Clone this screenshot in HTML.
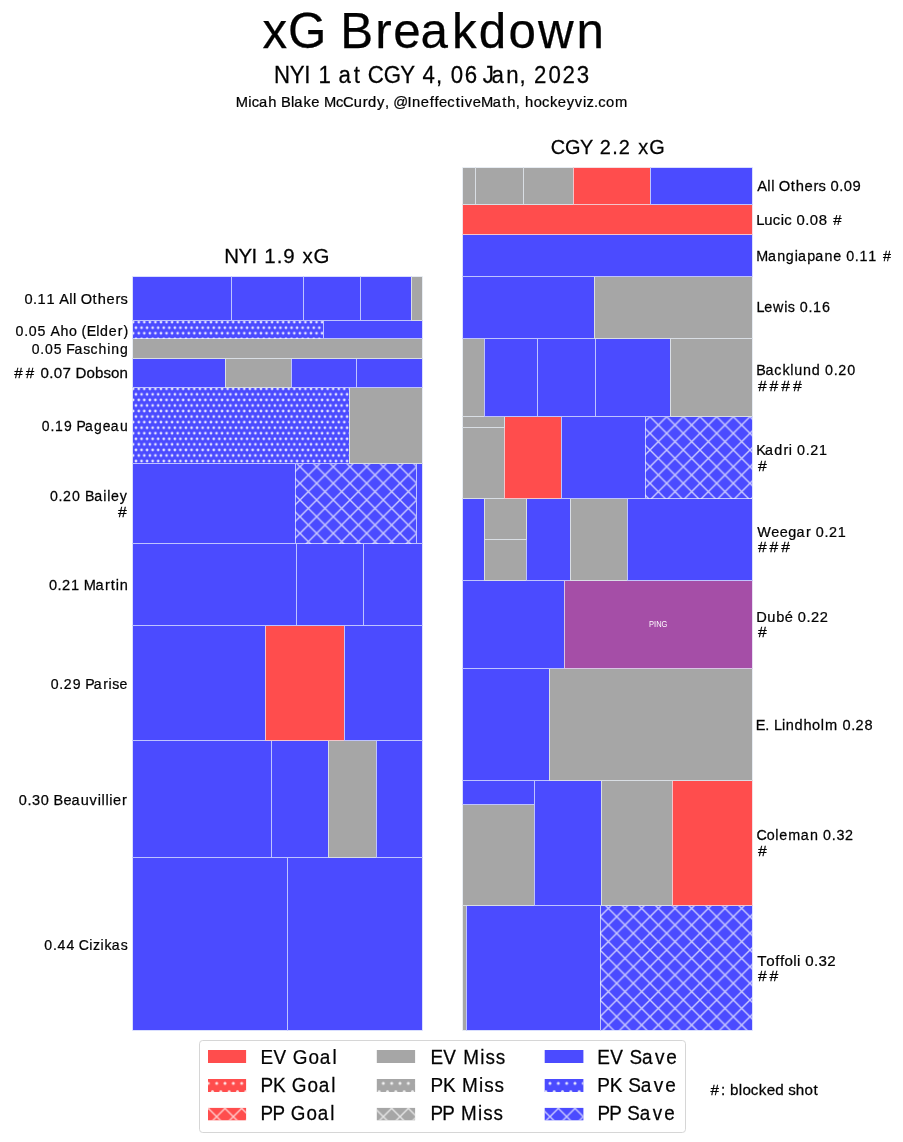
<!DOCTYPE html>
<html><head><meta charset="utf-8"><title>xG Breakdown</title>
<style>html,body{margin:0;padding:0;background:#fff;width:903px;height:1142px;overflow:hidden}svg{display:block}text{font-family:"Liberation Sans",sans-serif}</style>
</head><body>
<svg width="903" height="1142" viewBox="0 0 903 1142"><defs>
<pattern id="x" patternUnits="userSpaceOnUse" x="0" y="0" width="16.6667" height="16.6667">
<path d="M0,0 L16.6667,16.6667 M16.6667,0 L0,16.6667 M-2,14.6667 L2,18.6667 M14.6667,-2 L18.6667,2 M-2,2 L2,-2 M14.6667,18.6667 L18.6667,14.6667" stroke="rgba(255,255,255,0.7)" stroke-width="1.39" fill="none"/>
</pattern>
<pattern id="dot" patternUnits="userSpaceOnUse" x="-0.13" y="-0.05" width="5.5556" height="11.1111">
<g fill="rgba(255,255,255,0.85)"><circle cx="0" cy="0" r="1.35"/><circle cx="5.5556" cy="0" r="1.35"/><circle cx="0" cy="11.1111" r="1.35"/><circle cx="5.5556" cy="11.1111" r="1.35"/><circle cx="2.7778" cy="5.5556" r="1.35"/></g>
</pattern>
<pattern id="dotL" patternUnits="userSpaceOnUse" x="0" y="0" width="8.3333" height="16.6667">
<g fill="rgba(255,255,255,0.85)"><circle cx="0" cy="0" r="1.5"/><circle cx="8.3333" cy="0" r="1.5"/><circle cx="0" cy="16.6667" r="1.5"/><circle cx="8.3333" cy="16.6667" r="1.5"/><circle cx="4.1667" cy="8.3333" r="1.5"/></g>
</pattern>
</defs><rect x="132.5" y="857" width="155.5" height="173.5" fill="#4b4bff"/><rect x="287" y="857" width="135.5" height="173.5" fill="#4b4bff"/><rect x="462.5" y="905" width="4.5" height="125.5" fill="#a6a6a6"/><rect x="466" y="905" width="135" height="125.5" fill="#4b4bff"/><rect x="600" y="905" width="152.5" height="125.5" fill="#4b4bff"/><rect x="600" y="905" width="152.5" height="125.5" fill="url(#x)"/><rect x="462.5" y="804" width="72.5" height="102" fill="#a6a6a6"/><rect x="534" y="780" width="68" height="126" fill="#4b4bff"/><rect x="601" y="780" width="72" height="126" fill="#a6a6a6"/><rect x="672" y="780" width="80.5" height="126" fill="#ff4d4d"/><rect x="132.5" y="740" width="139.5" height="118" fill="#4b4bff"/><rect x="271" y="740" width="58" height="118" fill="#4b4bff"/><rect x="328" y="740" width="49" height="118" fill="#a6a6a6"/><rect x="376" y="740" width="46.5" height="118" fill="#4b4bff"/><rect x="462.5" y="780" width="72.5" height="25" fill="#4b4bff"/><rect x="462.5" y="668" width="87.5" height="113" fill="#4b4bff"/><rect x="549" y="668" width="203.5" height="113" fill="#a6a6a6"/><rect x="132.5" y="625" width="133.5" height="116" fill="#4b4bff"/><rect x="265" y="625" width="80" height="116" fill="#ff4d4d"/><rect x="344" y="625" width="78.5" height="116" fill="#4b4bff"/><rect x="462.5" y="580" width="102.5" height="89" fill="#4b4bff"/><rect x="564" y="580" width="188.5" height="89" fill="#a54ea7"/><rect x="132.5" y="543" width="164.5" height="83" fill="#4b4bff"/><rect x="296" y="543" width="68" height="83" fill="#4b4bff"/><rect x="363" y="543" width="59.5" height="83" fill="#4b4bff"/><rect x="462.5" y="498" width="22.5" height="83" fill="#4b4bff"/><rect x="484" y="539" width="43" height="42" fill="#a6a6a6"/><rect x="526" y="498" width="45" height="83" fill="#4b4bff"/><rect x="570" y="498" width="58" height="83" fill="#a6a6a6"/><rect x="627" y="498" width="125.5" height="83" fill="#4b4bff"/><rect x="132.5" y="463" width="163.5" height="81" fill="#4b4bff"/><rect x="295" y="463" width="122" height="81" fill="#4b4bff"/><rect x="295" y="463" width="122" height="81" fill="url(#x)"/><rect x="416" y="463" width="6.5" height="81" fill="#4b4bff"/><rect x="484" y="498" width="43" height="42" fill="#a6a6a6"/><rect x="462.5" y="427" width="42.5" height="72" fill="#a6a6a6"/><rect x="504" y="416" width="58" height="83" fill="#ff4d4d"/><rect x="561" y="416" width="85" height="83" fill="#4b4bff"/><rect x="645" y="416" width="107.5" height="83" fill="#4b4bff"/><rect x="645" y="416" width="107.5" height="83" fill="url(#x)"/><rect x="132.5" y="387" width="217.5" height="77" fill="#4b4bff"/><rect x="132.5" y="387" width="217.5" height="77" fill="url(#dot)"/><rect x="349" y="387" width="73.5" height="77" fill="#a6a6a6"/><rect x="462.5" y="416" width="42.5" height="12" fill="#a6a6a6"/><rect x="462.5" y="338" width="22.5" height="79" fill="#a6a6a6"/><rect x="484" y="338" width="54" height="79" fill="#4b4bff"/><rect x="537" y="338" width="59" height="79" fill="#4b4bff"/><rect x="595" y="338" width="76" height="79" fill="#4b4bff"/><rect x="670" y="338" width="82.5" height="79" fill="#a6a6a6"/><rect x="132.5" y="358" width="93.5" height="30" fill="#4b4bff"/><rect x="225" y="358" width="67" height="30" fill="#a6a6a6"/><rect x="291" y="358" width="66" height="30" fill="#4b4bff"/><rect x="356" y="358" width="66.5" height="30" fill="#4b4bff"/><rect x="132.5" y="338" width="290" height="21" fill="#a6a6a6"/><rect x="132.5" y="320" width="191.5" height="19" fill="#4b4bff"/><rect x="132.5" y="320" width="191.5" height="19" fill="url(#dot)"/><rect x="323" y="320" width="99.5" height="19" fill="#4b4bff"/><rect x="462.5" y="276" width="132.5" height="63" fill="#4b4bff"/><rect x="594" y="276" width="158.5" height="63" fill="#a6a6a6"/><rect x="132.5" y="276.5" width="99.5" height="44.5" fill="#4b4bff"/><rect x="231" y="276.5" width="73" height="44.5" fill="#4b4bff"/><rect x="303" y="276.5" width="58" height="44.5" fill="#4b4bff"/><rect x="360" y="276.5" width="52" height="44.5" fill="#4b4bff"/><rect x="411" y="276.5" width="11.5" height="44.5" fill="#a6a6a6"/><rect x="462.5" y="234" width="290" height="43" fill="#4b4bff"/><rect x="462.5" y="204" width="290" height="31" fill="#ff4d4d"/><rect x="462.5" y="167.5" width="13.5" height="37.5" fill="#a6a6a6"/><rect x="475" y="167.5" width="49" height="37.5" fill="#a6a6a6"/><rect x="523" y="167.5" width="51" height="37.5" fill="#a6a6a6"/><rect x="573" y="167.5" width="78" height="37.5" fill="#ff4d4d"/><rect x="650" y="167.5" width="102.5" height="37.5" fill="#4b4bff"/><mask id="em" maskUnits="userSpaceOnUse" x="0" y="0" width="903" height="1142"><path d="M132.5 276.5H231.5V320.5H132.5ZM231.5 276.5H303.5V320.5H231.5ZM303.5 276.5H360.5V320.5H303.5ZM360.5 276.5H411.5V320.5H360.5ZM411.5 276.5H422.5V320.5H411.5ZM132.5 320.5H323.5V338.5H132.5ZM323.5 320.5H422.5V338.5H323.5ZM132.5 338.5H422.5V358.5H132.5ZM132.5 358.5H225.5V387.5H132.5ZM225.5 358.5H291.5V387.5H225.5ZM291.5 358.5H356.5V387.5H291.5ZM356.5 358.5H422.5V387.5H356.5ZM132.5 387.5H349.5V463.5H132.5ZM349.5 387.5H422.5V463.5H349.5ZM132.5 463.5H295.5V543.5H132.5ZM295.5 463.5H416.5V543.5H295.5ZM416.5 463.5H422.5V543.5H416.5ZM132.5 543.5H296.5V625.5H132.5ZM296.5 543.5H363.5V625.5H296.5ZM363.5 543.5H422.5V625.5H363.5ZM132.5 625.5H265.5V740.5H132.5ZM265.5 625.5H344.5V740.5H265.5ZM344.5 625.5H422.5V740.5H344.5ZM132.5 740.5H271.5V857.5H132.5ZM271.5 740.5H328.5V857.5H271.5ZM328.5 740.5H376.5V857.5H328.5ZM376.5 740.5H422.5V857.5H376.5ZM132.5 857.5H287.5V1030.5H132.5ZM287.5 857.5H422.5V1030.5H287.5ZM462.5 167.5H475.5V204.5H462.5ZM475.5 167.5H523.5V204.5H475.5ZM523.5 167.5H573.5V204.5H523.5ZM573.5 167.5H650.5V204.5H573.5ZM650.5 167.5H752.5V204.5H650.5ZM462.5 204.5H752.5V234.5H462.5ZM462.5 234.5H752.5V276.5H462.5ZM462.5 276.5H594.5V338.5H462.5ZM594.5 276.5H752.5V338.5H594.5ZM462.5 338.5H484.5V416.5H462.5ZM484.5 338.5H537.5V416.5H484.5ZM537.5 338.5H595.5V416.5H537.5ZM595.5 338.5H670.5V416.5H595.5ZM670.5 338.5H752.5V416.5H670.5ZM462.5 416.5H504.5V427.5H462.5ZM462.5 427.5H504.5V498.5H462.5ZM504.5 416.5H561.5V498.5H504.5ZM561.5 416.5H645.5V498.5H561.5ZM645.5 416.5H752.5V498.5H645.5ZM462.5 498.5H484.5V580.5H462.5ZM484.5 498.5H526.5V539.5H484.5ZM484.5 539.5H526.5V580.5H484.5ZM526.5 498.5H570.5V580.5H526.5ZM570.5 498.5H627.5V580.5H570.5ZM627.5 498.5H752.5V580.5H627.5ZM462.5 580.5H564.5V668.5H462.5ZM564.5 580.5H752.5V668.5H564.5ZM462.5 668.5H549.5V780.5H462.5ZM549.5 668.5H752.5V780.5H549.5ZM462.5 780.5H534.5V804.5H462.5ZM462.5 804.5H534.5V905.5H462.5ZM534.5 780.5H601.5V905.5H534.5ZM601.5 780.5H672.5V905.5H601.5ZM672.5 780.5H752.5V905.5H672.5ZM462.5 905.5H466.5V1030.5H462.5ZM466.5 905.5H600.5V1030.5H466.5ZM600.5 905.5H752.5V1030.5H600.5Z" fill="none" stroke="#fff" stroke-width="1"/></mask><rect x="0" y="0" width="903" height="1142" fill="#f0f6ff" fill-opacity="0.7" mask="url(#em)"/><rect x="199.5" y="1040.5" width="486" height="92" rx="3.2" ry="3.2" fill="#fff" fill-opacity="0.8" stroke="#d6d6d6" stroke-width="1"/><rect x="208.0" y="1050.0" width="38.10" height="13.00" fill="#ff4d4d"/><rect x="208.0" y="1079.0" width="38.10" height="13.00" fill="#ff4d4d"/><rect x="208.0" y="1079.0" width="38.10" height="13.00" fill="url(#dotL)"/><rect x="208.0" y="1107.9" width="38.10" height="12.40" fill="#ff4d4d"/><rect x="208.0" y="1107.9" width="38.10" height="12.40" fill="url(#x)"/><rect x="376.8" y="1050.0" width="38.30" height="13.00" fill="#a6a6a6"/><rect x="376.8" y="1079.0" width="38.30" height="13.00" fill="#a6a6a6"/><rect x="376.8" y="1079.0" width="38.30" height="13.00" fill="url(#dotL)"/><rect x="376.8" y="1107.9" width="38.30" height="12.40" fill="#a6a6a6"/><rect x="376.8" y="1107.9" width="38.30" height="12.40" fill="url(#x)"/><rect x="544.7" y="1050.0" width="38.70" height="13.00" fill="#4b4bff"/><rect x="544.7" y="1079.0" width="38.70" height="13.00" fill="#4b4bff"/><rect x="544.7" y="1079.0" width="38.70" height="13.00" fill="url(#dotL)"/><rect x="544.7" y="1107.9" width="38.70" height="12.40" fill="#4b4bff"/><rect x="544.7" y="1107.9" width="38.70" height="12.40" fill="url(#x)"/><g font-family="Liberation Sans, sans-serif" style="font-kerning:none" opacity="0.995"><text transform="translate(260.95,47.90)" x="1.54 27.07 65.22 79.26 114.40 132.32 159.46 191.15 217.77 247.51 277.15 315.66" y="0" font-size="49.32" fill="#000" stroke="#000" stroke-width="0.25">xG Breakdown</text><text transform="translate(273.80,82.90) scale(0.9578,1)" x="0.29 16.69 31.72 38.83 46.55 60.96 67.67 83.35 91.64 98.15 114.70 132.07 147.36 155.19 169.26 176.87 184.70 199.46 213.76 218.29 227.32 242.68 256.66 264.27 271.79 286.86 301.31 316.40" y="0" font-size="23.22" fill="#000" stroke="#000" stroke-width="0.25">NYI 1 at CGY 4, 06 Jan, 2023</text><text transform="translate(235.93,106.60) scale(1.0137,1)" x="-0.13 12.12 15.60 22.80 31.87 40.40 44.43 54.29 57.45 66.64 74.34 82.73 86.79 98.72 105.74 116.12 125.19 130.39 139.28 146.99 151.48 155.19 169.38 173.75 182.31 191.10 195.92 200.38 208.58 216.77 221.81 225.75 233.64 241.73 253.32 262.71 267.76 276.15 280.65 285.16 293.69 301.88 309.88 317.58 326.23 334.34 342.32 345.87 353.18 357.35 365.07 373.96" y="0" font-size="14.52" fill="#000" stroke="#000" stroke-width="0.25">Micah Blake McCurdy, @IneffectiveMath, hockeyviz.com</text><text transform="translate(224.17,262.60) scale(0.9790,1)" x="0.09 14.55 27.87 34.13 40.86 53.61 60.39 73.11 80.04 91.13" y="0" font-size="20.90" fill="#000" stroke="#000" stroke-width="0.25">NYI 1.9 xG</text><text transform="translate(551.14,153.90) scale(0.9543,1)" x="-0.34 14.61 30.31 44.10 50.91 64.09 70.91 84.10 91.26 102.71" y="0" font-size="20.90" fill="#000" stroke="#000" stroke-width="0.25">CGY 2.2 xG</text><text transform="translate(24.03,304.00) scale(1.0074,1)" x="0.35 8.94 13.43 22.20 30.88 34.96 44.82 48.65 52.35 56.35 68.06 73.16 81.79 90.72 95.77" y="0" font-size="14.52" fill="#000" stroke="#000" stroke-width="0.25">0.11 All Others</text><text transform="translate(15.09,335.80) scale(0.9786,1)" x="0.48 9.26 14.02 22.99 31.84 36.13 46.30 55.13 63.74 68.00 73.16 82.88 86.84 95.83 104.99 110.76" y="0" font-size="14.52" fill="#000" stroke="#000" stroke-width="0.25">0.05 Aho (Elder)</text><text transform="translate(31.26,353.50) scale(0.9628,1)" x="0.55 9.45 14.31 23.44 32.40 36.41 44.86 54.07 61.53 69.84 78.84 83.01 92.04" y="0" font-size="14.52" fill="#000" stroke="#000" stroke-width="0.25">0.05 Fasching</text><text transform="translate(12.60,378.40) scale(1.0418,1)" x="1.56 12.73 22.45 26.78 35.16 39.50 47.96 56.37 60.41 70.82 79.20 87.33 94.39 102.71" y="0" font-size="14.52" fill="#000" stroke="#000" stroke-width="0.25">## 0.07 Dobson</text><text transform="translate(41.35,431.20) scale(0.9619,1)" x="0.55 9.46 14.26 23.47 32.43 36.51 45.31 54.75 63.90 72.21 81.71" y="0" font-size="14.52" fill="#000" stroke="#000" stroke-width="0.25">0.19 Pageau</text><text transform="translate(49.55,501.20) scale(0.9772,1)" x="0.48 9.28 13.86 23.09 31.89 36.18 45.71 55.00 58.94 62.89 71.85" y="0" font-size="14.52" fill="#000" stroke="#000" stroke-width="0.25">0.20 Bailey</text><text transform="translate(116.43,517.00) scale(1.0800,1)" x="1.36" y="0" font-size="14.52" fill="#000" stroke="#000" stroke-width="0.25">#</text><text transform="translate(48.52,590.20) scale(1.0044,1)" x="0.36 8.97 13.37 22.28 30.97 35.11 46.80 56.28 61.94 67.02 70.92" y="0" font-size="14.52" fill="#000" stroke="#000" stroke-width="0.25">0.21 Martin</text><text transform="translate(50.16,688.90) scale(0.9723,1)" x="0.50 9.34 13.95 23.18 32.06 36.06 44.78 54.53 59.97 63.75 71.39" y="0" font-size="14.52" fill="#000" stroke="#000" stroke-width="0.25">0.29 Parise</text><text transform="translate(18.36,805.00)" x="0.38 9.03 13.66 22.48 31.13 35.26 45.16 53.14 62.29 71.24 79.31 83.16 87.02 90.89 94.69 103.69" y="0" font-size="14.52" fill="#000" stroke="#000" stroke-width="0.25">0.30 Beauvillier</text><text transform="translate(43.84,950.30) scale(0.9701,1)" x="0.51 9.36 14.17 23.28 32.14 36.11 46.81 50.60 58.31 62.55 70.01 79.16" y="0" font-size="14.52" fill="#000" stroke="#000" stroke-width="0.25">0.44 Cizikas</text><text transform="translate(757.49,191.20) scale(1.0186,1)" x="-0.18 9.61 13.40 17.06 20.97 32.59 37.61 46.15 55.00 59.98 67.22 71.70 80.22 84.71 93.34" y="0" font-size="14.52" fill="#000" stroke="#000" stroke-width="0.25">All Others 0.09</text><text transform="translate(756.24,225.10) scale(1.0255,1)" x="0.01 7.77 16.06 23.85 27.27 34.92 39.36 47.84 52.28 60.90 69.39 75.20" y="0" font-size="14.52" fill="#000" stroke="#000" stroke-width="0.25">Lucic 0.08 #</text><text transform="translate(756.24,261.00) scale(0.9870,1)" x="0.03 11.89 21.22 30.03 38.97 42.28 51.67 59.84 69.16 77.95 86.51 91.20 99.93 104.55 113.51 122.32 128.43" y="0" font-size="14.52" fill="#000" stroke="#000" stroke-width="0.25">Mangiapane 0.11 #</text><text transform="translate(756.24,312.30) scale(0.9888,1)" x="0.17 8.14 16.97 28.30 31.99 39.40 44.07 52.79 57.41 66.42" y="0" font-size="14.52" fill="#000" stroke="#000" stroke-width="0.25">Lewis 0.16</text><text transform="translate(756.24,374.80) scale(0.9888,1)" x="-0.04 9.38 18.31 26.52 34.44 38.39 47.35 56.14 64.94 69.62 78.34 82.84 91.96" y="0" font-size="14.52" fill="#000" stroke="#000" stroke-width="0.25">Backlund 0.20</text><text transform="translate(756.53,390.80) scale(1.0800,1)" x="1.36 12.13 22.91 33.69" y="0" font-size="14.52" fill="#000" stroke="#000" stroke-width="0.25">####</text><text transform="translate(756.24,454.80) scale(0.9880,1)" x="0.09 8.97 18.17 27.51 32.88 36.66 41.34 50.07 54.57 63.63" y="0" font-size="14.52" fill="#000" stroke="#000" stroke-width="0.25">Kadri 0.21</text><text transform="translate(756.53,470.80) scale(1.0800,1)" x="1.36" y="0" font-size="14.52" fill="#000" stroke="#000" stroke-width="0.25">#</text><text transform="translate(757.14,536.60) scale(0.9914,1)" x="0.07 14.16 22.78 31.42 39.72 49.31 54.54 59.21 67.91 72.39 81.42" y="0" font-size="14.52" fill="#000" stroke="#000" stroke-width="0.25">Weegar 0.21</text><text transform="translate(756.53,552.30) scale(1.0800,1)" x="1.36 12.13 22.91" y="0" font-size="14.52" fill="#000" stroke="#000" stroke-width="0.25">###</text><text transform="translate(756.24,621.70) scale(1.0071,1)" x="0.09 10.93 19.79 28.35 36.78 41.33 49.93 54.31 63.09" y="0" font-size="14.52" fill="#000" stroke="#000" stroke-width="0.25">Dubé 0.22</text><text transform="translate(756.53,637.30) scale(1.0800,1)" x="1.36" y="0" font-size="14.52" fill="#000" stroke="#000" stroke-width="0.25">#</text><text transform="translate(756.24,729.60) scale(1.0045,1)" x="-0.52 8.91 13.31 17.63 25.55 29.45 38.10 46.97 55.57 64.14 68.40 81.33 85.90 94.51 98.91 107.89" y="0" font-size="14.52" fill="#000" stroke="#000" stroke-width="0.25">E. Lindholm 0.28</text><text transform="translate(756.82,839.80) scale(0.9868,1)" x="-0.41 10.10 18.78 22.67 31.86 44.47 53.80 62.49 67.18 75.91 80.63 89.38" y="0" font-size="14.52" fill="#000" stroke="#000" stroke-width="0.25">Coleman 0.32</text><text transform="translate(756.53,855.60) scale(1.0800,1)" x="1.36" y="0" font-size="14.52" fill="#000" stroke="#000" stroke-width="0.25">#</text><text transform="translate(757.64,965.70) scale(1.0412,1)" x="-0.36 8.20 16.81 21.50 25.75 34.10 37.82 41.38 45.72 54.10 58.47 66.76" y="0" font-size="14.52" fill="#000" stroke="#000" stroke-width="0.25">Toffoli 0.32</text><text transform="translate(756.53,981.30) scale(1.0800,1)" x="1.36 12.13" y="0" font-size="14.52" fill="#000" stroke="#000" stroke-width="0.25">##</text><text transform="translate(260.63,1063.70) scale(0.9247,1)" x="-0.17 13.81 28.42 34.85 51.85 64.06 77.68" y="0" font-size="20.48" fill="#000" stroke="#000" stroke-width="0.25">EV Goal</text><text transform="translate(260.63,1092.00) scale(0.9256,1)" x="-0.07 13.42 27.18 33.60 50.58 62.78 76.39" y="0" font-size="20.48" fill="#000" stroke="#000" stroke-width="0.25">PK Goal</text><text transform="translate(260.63,1120.30) scale(0.9200,1)" x="-0.03 12.82 26.23 32.73 49.80 62.08 75.75" y="0" font-size="20.48" fill="#000" stroke="#000" stroke-width="0.25">PP Goal</text><text transform="translate(430.58,1063.70) scale(0.9236,1)" x="-0.16 13.83 28.45 35.30 53.67 59.43 70.48" y="0" font-size="20.48" fill="#000" stroke="#000" stroke-width="0.25">EV Miss</text><text transform="translate(430.58,1092.00) scale(0.9245,1)" x="-0.06 13.44 27.21 34.05 52.40 58.15 69.20" y="0" font-size="20.48" fill="#000" stroke="#000" stroke-width="0.25">PK Miss</text><text transform="translate(430.58,1120.30) scale(0.9200,1)" x="-0.03 12.82 26.23 33.13 51.54 57.34 68.44" y="0" font-size="20.48" fill="#000" stroke="#000" stroke-width="0.25">PP Miss</text><text transform="translate(597.43,1063.70) scale(0.9275,1)" x="-0.19 13.74 28.32 34.52 47.96 62.02 74.24" y="0" font-size="20.48" fill="#000" stroke="#000" stroke-width="0.25">EV Save</text><text transform="translate(597.43,1092.00) scale(0.9284,1)" x="-0.09 13.36 27.09 33.27 46.70 60.75 72.96" y="0" font-size="20.48" fill="#000" stroke="#000" stroke-width="0.25">PK Save</text><text transform="translate(597.43,1120.30) scale(0.9200,1)" x="-0.03 12.82 26.23 32.51 46.06 60.23 72.55" y="0" font-size="20.48" fill="#000" stroke="#000" stroke-width="0.25">PP Save</text><text transform="translate(709.03,1094.70) scale(1.0483,1)" x="1.52 11.32 15.66 20.02 28.42 31.89 39.83 47.55 55.00 63.18 71.59 75.63 82.78 91.03 99.66" y="0" font-size="14.52" fill="#000" stroke="#000" stroke-width="0.25">#: blocked shot</text><text x="649.08" y="626.9" font-size="9.9" textLength="18.37" lengthAdjust="spacingAndGlyphs" fill="#fff">PING</text></g></svg>
</body></html>
